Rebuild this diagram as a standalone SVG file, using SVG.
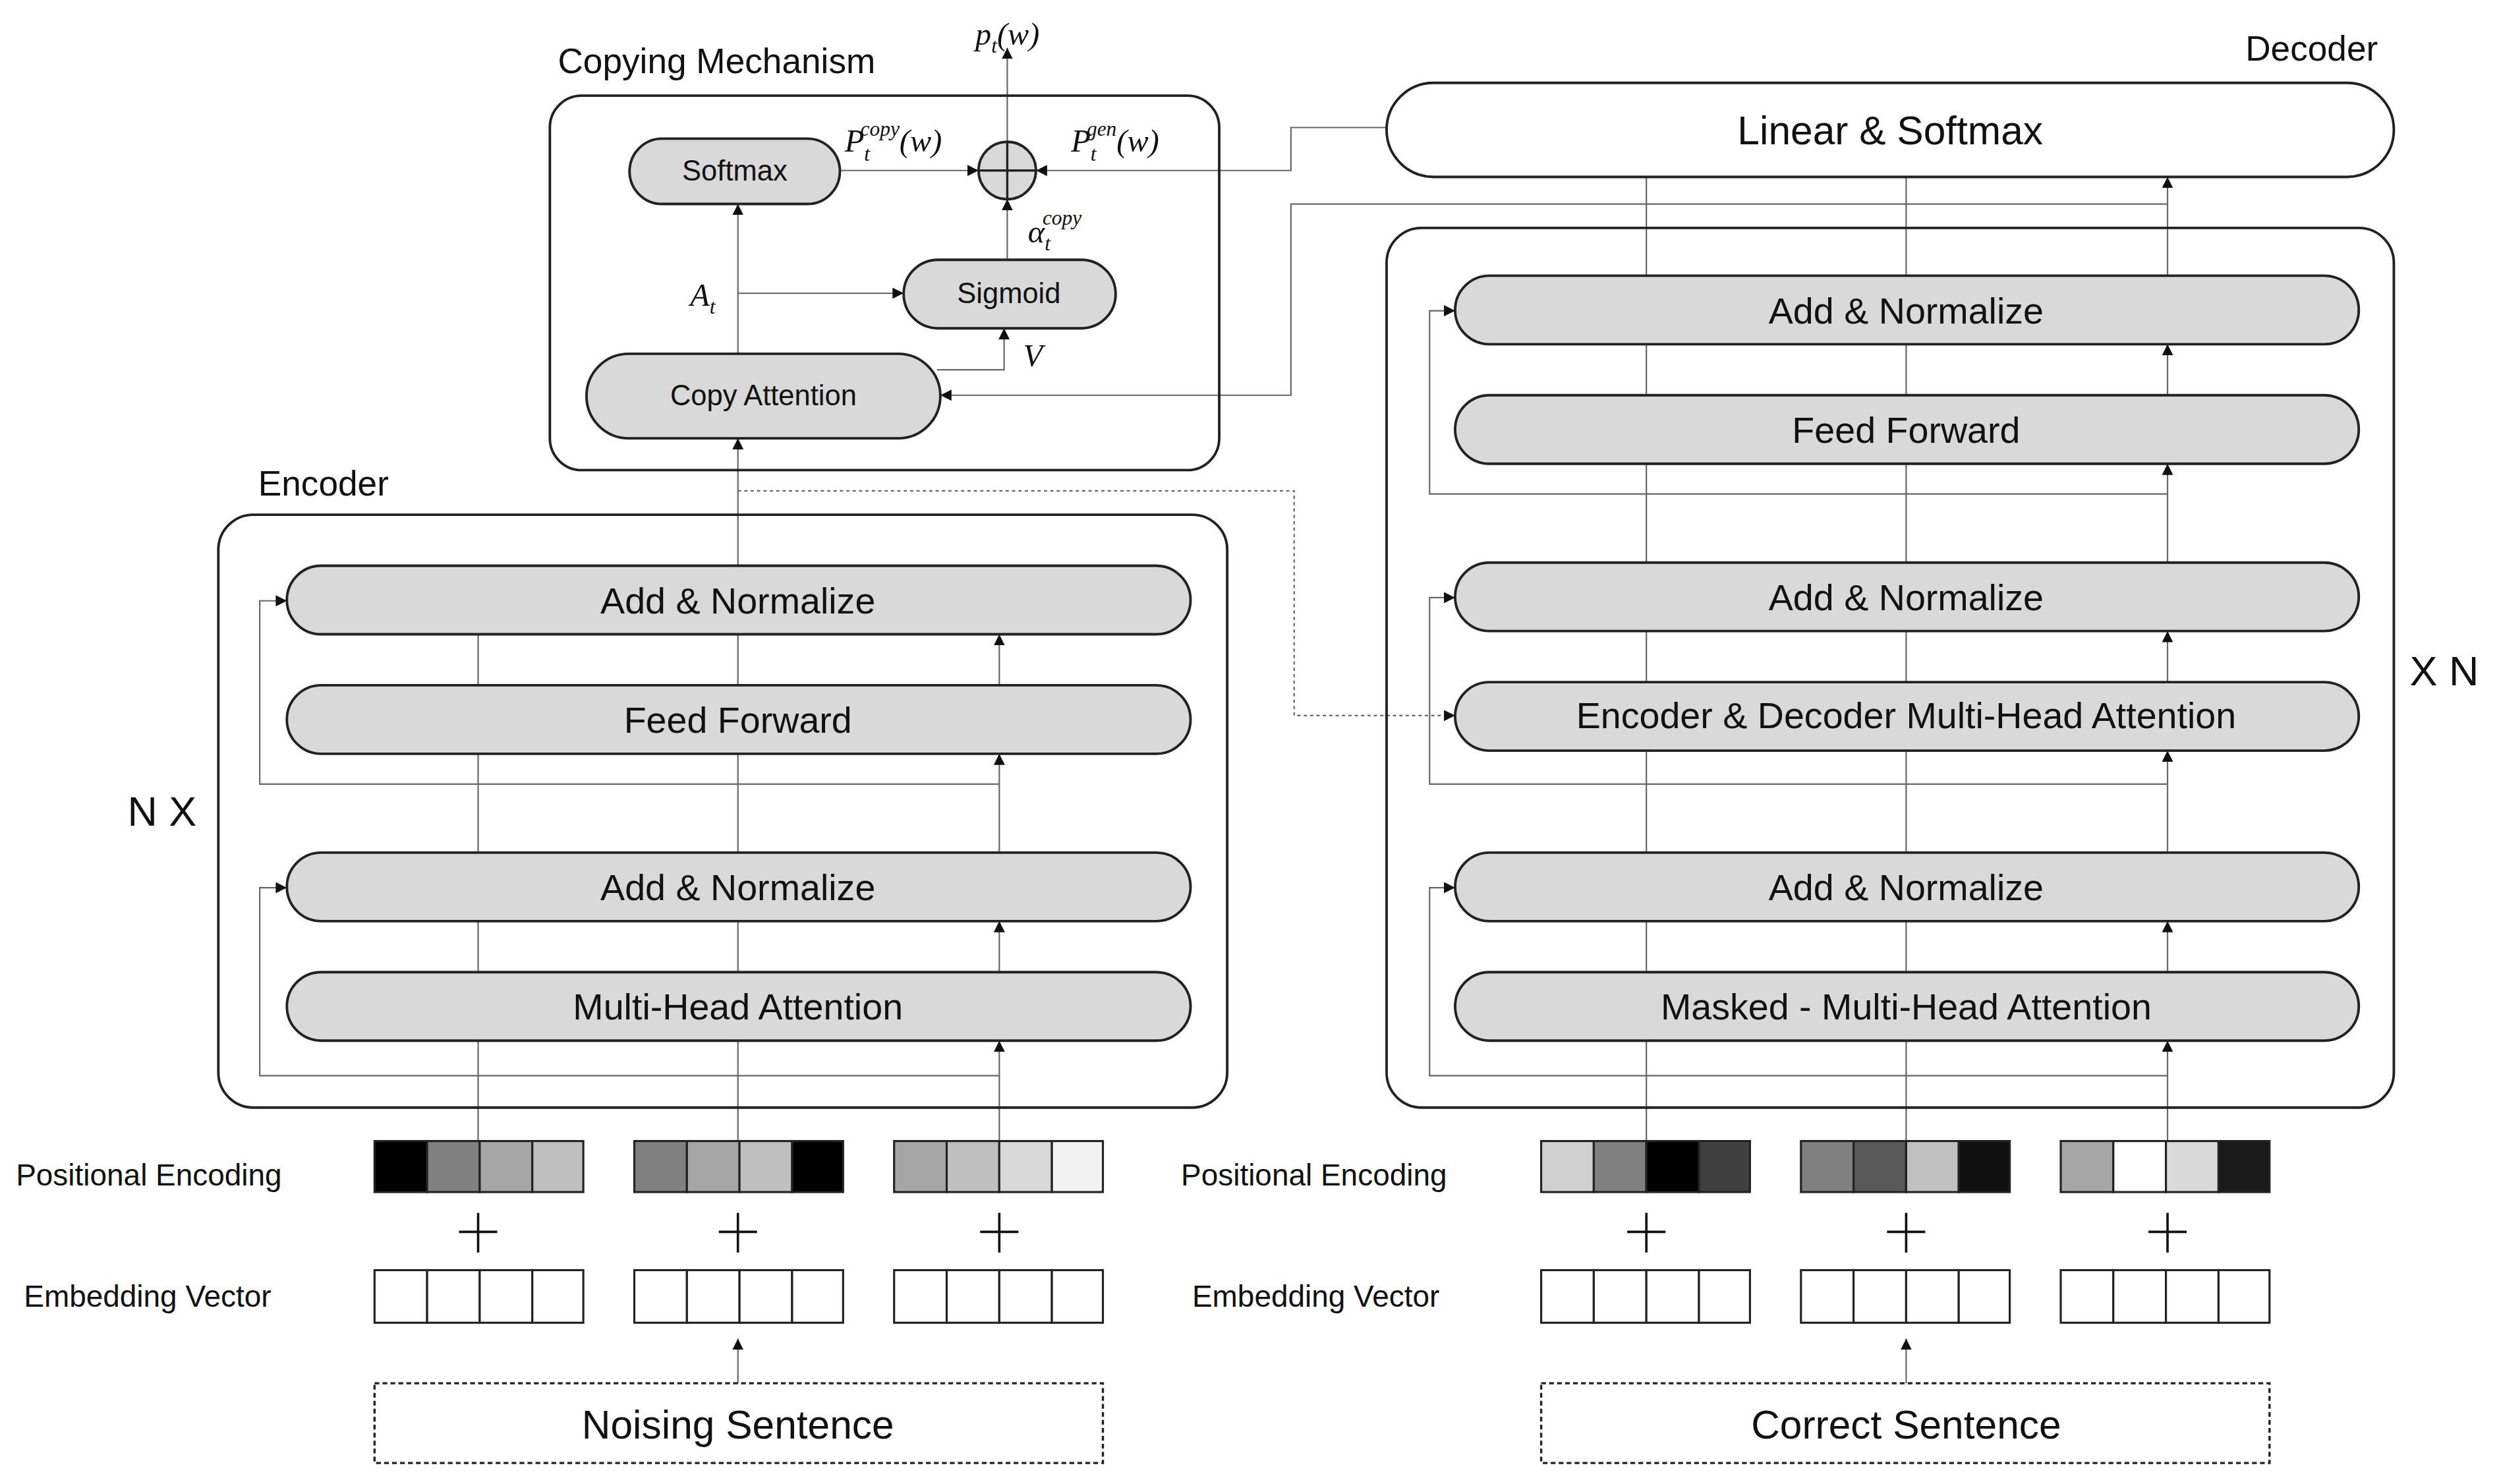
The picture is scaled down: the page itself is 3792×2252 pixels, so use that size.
<svg xmlns="http://www.w3.org/2000/svg" width="3792" height="2252" viewBox="0 0 3792 2252">
<style>
text{font-family:"Liberation Sans",Arial,sans-serif;fill:#111}
.pill{fill:#d9d9d9;stroke:#222;stroke-width:1.6}
.box{fill:none;stroke:#222;stroke-width:1.6}
.c{fill:none;stroke:#666;stroke-width:0.9}
.t{font-size:23px;text-anchor:middle;dominant-baseline:central}
.s{font-size:18px;text-anchor:middle;dominant-baseline:central}
.m{font-family:"Liberation Serif",serif;font-style:italic;font-size:20px}
.cell{stroke:#222;stroke-width:1.3}
</style>
<defs>
<marker id="a" viewBox="0 0 10 10" refX="10" refY="5" markerWidth="7" markerHeight="7" markerUnits="userSpaceOnUse" orient="auto"><path d="M0,0L10,5L0,10z" fill="#111"/></marker>
</defs>
<rect width="3792" height="2252" fill="#fff"/>
<g transform="scale(2.4184)">
<g id="connectors">
<!-- copy mechanism -->
<path class="c" d="M632,89V30" marker-end="url(#a)"/>
<path class="c" d="M527,107H614" marker-end="url(#a)"/>
<path class="c" d="M870,80H810V107H650" marker-end="url(#a)"/>
<path class="c" d="M632,163V125" marker-end="url(#a)"/>
<path class="c" d="M463,184H567" marker-end="url(#a)"/>
<path class="c" d="M463,222V128" marker-end="url(#a)"/>
<path class="c" d="M588,232H630V206" marker-end="url(#a)"/>
<path class="c" d="M1360,128H810V248H590" marker-end="url(#a)"/>
<path class="c" d="M463,355V275" marker-end="url(#a)"/>
<path class="c" d="M463,308H812V449H913" stroke-dasharray="2,2" marker-end="url(#a)"/>
<!-- encoder -->
<g>
<path class="c" d="M300,430V398M463,430V398M627,430V398" marker-end="url(#a)"/>
<path class="c" d="M300,535V473M463,535V473M627,535V473" marker-end="url(#a)"/>
<path class="c" d="M300,610V578M463,610V578M627,610V578" marker-end="url(#a)"/>
<path class="c" d="M300,716V653M463,716V653M627,716V653" marker-end="url(#a)"/>
<path class="c" d="M627,492H163V377H180" marker-end="url(#a)"/>
<path class="c" d="M627,675H163V557H180" marker-end="url(#a)"/>
<path class="c" d="M463,868V840" marker-end="url(#a)"/>
</g>
<!-- decoder -->
<g>
<path class="c" d="M1033,173V111M1196,173V111M1360,173V111" marker-end="url(#a)"/>
<path class="c" d="M1033,248V216M1196,248V216M1360,248V216" marker-end="url(#a)"/>
<path class="c" d="M1033,353V291M1196,353V291M1360,353V291" marker-end="url(#a)"/>
<path class="c" d="M1033,428V396M1196,428V396M1360,428V396" marker-end="url(#a)"/>
<path class="c" d="M1033,535V471M1196,535V471M1360,535V471" marker-end="url(#a)"/>
<path class="c" d="M1033,610V578M1196,610V578M1360,610V578" marker-end="url(#a)"/>
<path class="c" d="M1033,716V653M1196,716V653M1360,716V653" marker-end="url(#a)"/>
<path class="c" d="M1360,310H897V195H913" marker-end="url(#a)"/>
<path class="c" d="M1360,492H897V375H913" marker-end="url(#a)"/>
<path class="c" d="M1360,675H897V557H913" marker-end="url(#a)"/>
<path class="c" d="M1196,868V840" marker-end="url(#a)"/>
</g>
</g>
<g id="copying">
<rect class="box" x="345" y="60" width="420" height="235" rx="20"/>
<text x="350" y="46" style="font-size:22px">Copying Mechanism</text>
<text class="m" x="612" y="28">p<tspan font-size="13" dy="5">t</tspan><tspan dy="-5">(w)</tspan></text>
<text class="m" x="530" y="95">P<tspan font-size="13" dy="6">t</tspan><tspan font-size="13" dx="-6" dy="-16">copy</tspan><tspan dy="10">(w)</tspan></text>
<text class="m" x="672" y="95">P<tspan font-size="13" dy="6">t</tspan><tspan font-size="13" dx="-6" dy="-16">gen</tspan><tspan dy="10">(w)</tspan></text>
<text class="m" x="645" y="152">α<tspan font-size="13" dy="5">t</tspan><tspan font-size="13" dx="-5" dy="-16">copy</tspan></text>
<text class="m" x="433" y="192">A<tspan font-size="13" dy="5">t</tspan></text>
<text class="m" x="642" y="230">V</text>
</g>
<g id="sum"><circle cx="632" cy="107" r="18" fill="#d9d9d9" stroke="#222" stroke-width="1.6"/><path d="M614,107H650M632,89V125" stroke="#222" stroke-width="1.4"/></g>
<g id="softmax"><rect class="pill" x="395" y="87" width="132" height="41" rx="20.5"/><text class="s" x="461" y="107">Softmax</text></g>
<g id="sigmoid"><rect class="pill" x="567" y="163" width="133" height="43" rx="21.5"/><text class="s" x="633" y="184">Sigmoid</text></g>
<g id="copyatt"><rect class="pill" x="368" y="222" width="222" height="53" rx="26.5"/><text class="s" x="479" y="248">Copy Attention</text></g>
<g id="encoder">
<rect class="box" x="137" y="323" width="633" height="372" rx="22"/>
<text x="162" y="311" style="font-size:22px">Encoder</text>
<text x="80" y="518" style="font-size:26px">N X</text>
</g>
<g id="enc-an2"><rect class="pill" x="180" y="355" width="567" height="43" rx="21.5"/><text class="t" x="463" y="377">Add &amp; Normalize</text></g>
<g id="enc-ff"><rect class="pill" x="180" y="430" width="567" height="43" rx="21.5"/><text class="t" x="463" y="452">Feed Forward</text></g>
<g id="enc-an1"><rect class="pill" x="180" y="535" width="567" height="43" rx="21.5"/><text class="t" x="463" y="557">Add &amp; Normalize</text></g>
<g id="enc-mha"><rect class="pill" x="180" y="610" width="567" height="43" rx="21.5"/><text class="t" x="463" y="632">Multi-Head Attention</text></g>
<g id="enc-inputs">
<text x="10" y="744" style="font-size:19px">Positional Encoding</text>
<text x="15" y="820" style="font-size:19px">Embedding Vector</text>
<g class="cell">
<rect x="235" y="716" width="33" height="32" fill="#000"/><rect x="268" y="716" width="33" height="32" fill="#808080"/><rect x="301" y="716" width="33" height="32" fill="#a6a6a6"/><rect x="334" y="716" width="32" height="32" fill="#bfbfbf"/>
<rect x="398" y="716" width="33" height="32" fill="#808080"/><rect x="431" y="716" width="33" height="32" fill="#a6a6a6"/><rect x="464" y="716" width="33" height="32" fill="#bfbfbf"/><rect x="497" y="716" width="32" height="32" fill="#000"/>
<rect x="561" y="716" width="33" height="32" fill="#a6a6a6"/><rect x="594" y="716" width="33" height="32" fill="#bfbfbf"/><rect x="627" y="716" width="33" height="32" fill="#d9d9d9"/><rect x="660" y="716" width="32" height="32" fill="#f2f2f2"/>
<rect x="235" y="797" width="33" height="33" fill="#fff"/><rect x="268" y="797" width="33" height="33" fill="#fff"/><rect x="301" y="797" width="33" height="33" fill="#fff"/><rect x="334" y="797" width="32" height="33" fill="#fff"/>
<rect x="398" y="797" width="33" height="33" fill="#fff"/><rect x="431" y="797" width="33" height="33" fill="#fff"/><rect x="464" y="797" width="33" height="33" fill="#fff"/><rect x="497" y="797" width="32" height="33" fill="#fff"/>
<rect x="561" y="797" width="33" height="33" fill="#fff"/><rect x="594" y="797" width="33" height="33" fill="#fff"/><rect x="627" y="797" width="33" height="33" fill="#fff"/><rect x="660" y="797" width="32" height="33" fill="#fff"/>
</g>
<path d="M300,761V786M288,773H312M463,761V786M451,773H475M627,761V786M615,773H639" stroke="#111" stroke-width="1.5"/>
</g>
<g id="noising"><rect x="235" y="868" width="457" height="50" fill="none" stroke="#222" stroke-width="1.4" stroke-dasharray="3,2"/><text class="t" x="463" y="894" style="font-size:25px">Noising Sentence</text></g>
<g id="linear"><rect x="870" y="52" width="632" height="59" rx="29.5" fill="#fff" stroke="#222" stroke-width="1.6"/><text class="t" x="1186" y="82" style="font-size:25px">Linear &amp; Softmax</text>
<text x="1492" y="38" text-anchor="end" style="font-size:22px">Decoder</text></g>
<g id="decoder">
<rect class="box" x="870" y="143" width="632" height="552" rx="22"/>
<text x="1512" y="430" style="font-size:26px">X N</text>
</g>
<g id="dec-an3"><rect class="pill" x="913" y="173" width="567" height="43" rx="21.5"/><text class="t" x="1196" y="195">Add &amp; Normalize</text></g>
<g id="dec-ff"><rect class="pill" x="913" y="248" width="567" height="43" rx="21.5"/><text class="t" x="1196" y="270">Feed Forward</text></g>
<g id="dec-an2"><rect class="pill" x="913" y="353" width="567" height="43" rx="21.5"/><text class="t" x="1196" y="375">Add &amp; Normalize</text></g>
<g id="dec-edmha"><rect class="pill" x="913" y="428" width="567" height="43" rx="21.5"/><text class="t" x="1196" y="449">Encoder &amp; Decoder Multi-Head Attention</text></g>
<g id="dec-an1"><rect class="pill" x="913" y="535" width="567" height="43" rx="21.5"/><text class="t" x="1196" y="557">Add &amp; Normalize</text></g>
<g id="dec-mmha"><rect class="pill" x="913" y="610" width="567" height="43" rx="21.5"/><text class="t" x="1196" y="632">Masked - Multi-Head Attention</text></g>
<g id="dec-inputs">
<text x="741" y="744" style="font-size:19px">Positional Encoding</text>
<text x="748" y="820" style="font-size:19px">Embedding Vector</text>
<g class="cell">
<rect x="967" y="716" width="33" height="32" fill="#d0d0d0"/><rect x="1000" y="716" width="33" height="32" fill="#808080"/><rect x="1033" y="716" width="33" height="32" fill="#000"/><rect x="1066" y="716" width="32" height="32" fill="#404040"/>
<rect x="1130" y="716" width="33" height="32" fill="#808080"/><rect x="1163" y="716" width="33" height="32" fill="#595959"/><rect x="1196" y="716" width="33" height="32" fill="#c0c0c0"/><rect x="1229" y="716" width="32" height="32" fill="#101010"/>
<rect x="1293" y="716" width="33" height="32" fill="#a6a6a6"/><rect x="1326" y="716" width="33" height="32" fill="#fff"/><rect x="1359" y="716" width="33" height="32" fill="#d9d9d9"/><rect x="1392" y="716" width="32" height="32" fill="#1a1a1a"/>
<rect x="967" y="797" width="33" height="33" fill="#fff"/><rect x="1000" y="797" width="33" height="33" fill="#fff"/><rect x="1033" y="797" width="33" height="33" fill="#fff"/><rect x="1066" y="797" width="32" height="33" fill="#fff"/>
<rect x="1130" y="797" width="33" height="33" fill="#fff"/><rect x="1163" y="797" width="33" height="33" fill="#fff"/><rect x="1196" y="797" width="33" height="33" fill="#fff"/><rect x="1229" y="797" width="32" height="33" fill="#fff"/>
<rect x="1293" y="797" width="33" height="33" fill="#fff"/><rect x="1326" y="797" width="33" height="33" fill="#fff"/><rect x="1359" y="797" width="33" height="33" fill="#fff"/><rect x="1392" y="797" width="32" height="33" fill="#fff"/>
</g>
<path d="M1033,761V786M1021,773H1045M1196,761V786M1184,773H1208M1360,761V786M1348,773H1372" stroke="#111" stroke-width="1.5"/>
</g>
<g id="correct"><rect x="967" y="868" width="457" height="50" fill="none" stroke="#222" stroke-width="1.4" stroke-dasharray="3,2"/><text class="t" x="1196" y="894" style="font-size:25px">Correct Sentence</text></g>
</g>
</svg>
